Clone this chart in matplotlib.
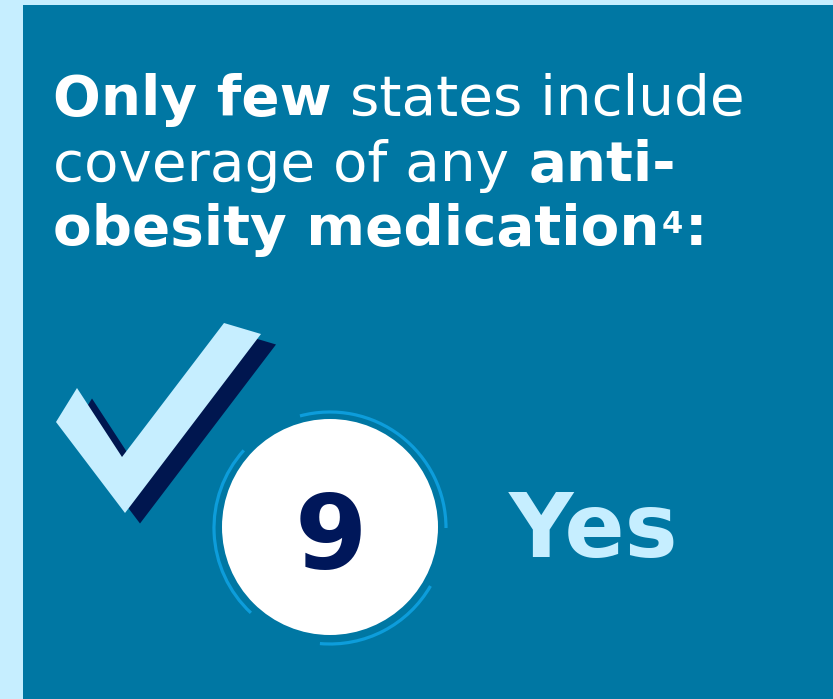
import matplotlib
matplotlib.use("Agg")
import matplotlib.pyplot as plt
from matplotlib.patches import Rectangle, Polygon, Circle, Arc

# ---- content -------------------------------------------------------------
headline_lines = [
    [("Only few", "bold", 0), ("states include", "normal", 0)],
    [("coverage of any", "normal", 0), ("anti-", "bold", 0)],
    [("obesity medication", "bold", 0), ("4", "bold", 1), (":", "bold", 0)],
]
state_count = 9
answer_label = "Yes"

# ---- palette -------------------------------------------------------------
PAGE_BG = "#C6EEFF"
PANEL = "#0077A3"
TICK_LIGHT = "#C6EEFF"
TICK_SHADOW = "#00164F"
NAVY = "#00175A"
RING = "#0D9DDB"

W, H = 833, 699
fig = plt.figure(figsize=(W / 100, H / 100), dpi=100)
fig.patch.set_facecolor(PAGE_BG)
ax = fig.add_axes([0, 0, 1, 1])
ax.set_xlim(0, W)
ax.set_ylim(H, 0)
ax.axis("off")

# main panel
ax.add_patch(Rectangle((23, 5), W - 23, H - 5, facecolor=PANEL, edgecolor="none"))

# ---- headline with mixed weights ------------------------------------------
renderer = fig.canvas.get_renderer()
FS = 40.6


def text_width(s, weight, size):
    t = ax.text(0, 0, s, fontsize=size, fontweight=weight, family="DejaVu Sans")
    w = t.get_window_extent(renderer).width
    t.remove()
    return w


def space_width(weight, size):
    return text_width("x x", weight, size) - text_width("xx", weight, size)


x0 = 53
baselines = [115, 181, 245]
for line, yb in zip(headline_lines, baselines):
    x = x0
    prev_sup = False
    for i, (seg, weight, sup) in enumerate(line):
        if sup:
            size, y = 22, yb - 12
            x += 2
        else:
            size, y = FS, yb
            if i > 0 and not prev_sup and seg != ":":
                x += space_width(weight, FS)
            elif seg == ":":
                x += 2
        t = ax.text(x, y, seg, fontsize=size, fontweight=weight, color="white",
                    family="DejaVu Sans", ha="left", va="baseline")
        x += t.get_window_extent(renderer).width
        prev_sup = bool(sup)

# ---- check mark with offset shadow -----------------------------------------
tick = [(77, 388), (122, 457), (224, 323), (261, 334), (125, 513), (56, 422)]
dx, dy = 15, 10.5
ax.add_patch(Polygon([(px + dx, py + dy) for px, py in tick], closed=True,
                     facecolor=TICK_SHADOW, edgecolor="none"))
ax.add_patch(Polygon(tick, closed=True, facecolor=TICK_LIGHT, edgecolor="none"))

# ---- count badge ----------------------------------------------------------
cx, cy, r = 330, 527, 108
ring_r = 116
# screen angles (counter-clockwise, y up) -> data angles on the inverted y axis
for a1, a2 in [(0, 105), (138, 227), (-95, -30)]:
    ax.add_patch(Arc((cx, cy + 1), 2 * ring_r, 2 * ring_r, theta1=-a2, theta2=-a1,
                     color=RING, lw=2.3))
ax.add_patch(Circle((cx, cy), r, facecolor="white", edgecolor="none"))
ax.text(cx + 1, 569, str(state_count), fontsize=75, fontweight="bold", color=NAVY,
        family="DejaVu Sans", ha="center", va="baseline")

ax.text(509, 557, answer_label, fontsize=64, fontweight="bold", color=TICK_LIGHT,
        family="DejaVu Sans", ha="left", va="baseline")

fig.savefig("out.png", dpi=100, facecolor=PAGE_BG)
